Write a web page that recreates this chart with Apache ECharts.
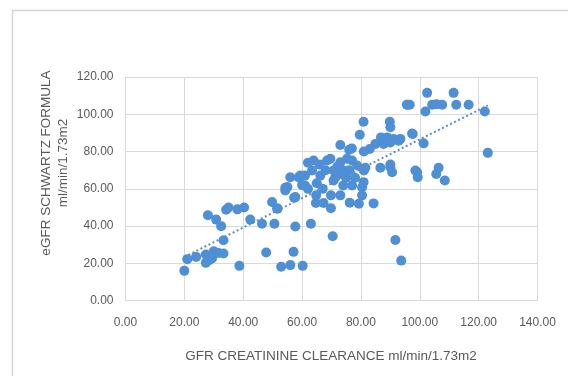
<!DOCTYPE html>
<html>
<head>
<meta charset="utf-8">
<script src="https://cdn.jsdelivr.net/npm/echarts@6/dist/echarts.min.js"></script>
<style>
  html, body { margin: 0; padding: 0; background: #ffffff; }
  #chart { width: 568px; height: 376px; }
</style>
</head>
<body>
<div id="chart"></div>
<script>
// GFR by creatinine clearance (x) vs eGFR by Schwartz formula (y), ml/min/1.73m2
const gfrClearance = [
  20, 21, 24, 27.3, 27.3, 28.4, 29.4, 30, 31.6, 33.3,
  28, 30.8, 32.5, 33.3, 34.2, 35, 38, 40.3, 42.4, 38.7,
  46.4, 47.8, 50.6, 49.8, 51.7, 52.9, 56, 57.1, 57.7, 57.3,
  54.3, 60.2, 63, 70.4, 91.7, 93.7,
  64.7, 67.3, 69.8, 64.8, 69.8, 73, 76.2, 79.3, 84.3, 80.4,
  80.4, 80.9, 81, 57.7, 54.3, 51.5,
  56, 58.8, 61, 59.4, 61, 63.4, 66.2, 70.7, 74, 71.3,
  70.7, 73, 77, 74, 63.9, 68.5, 69.6, 73, 75.3, 77,
  78.7, 81.5, 86.6, 90, 90.6, 99.1, 90, 62, 65, 67,
  68, 72, 75, 78, 55, 60, 66, 62, 76,
  73, 76.9, 83, 84.9, 86.8, 88.9, 91.1, 92.8, 90, 87.7,
  80.9, 79.6, 89.8, 90, 97.6, 95.9, 81, 76,
  102.5, 111.5, 95.6, 96.6, 104.2, 105.7, 107.6, 112.4, 116.6, 101.9,
  122.1, 97.4, 93.4, 101.3, 123.1, 98.5, 99.3, 105.6, 106.4, 108.5
];
const egfrSchwartz = [
  16, 22.3, 23.5, 20.3, 24.8, 21.7, 22.6, 26.5, 25.6, 25.3,
  45.8, 43.5, 40, 32.4, 48.8, 50, 49, 50, 43.5, 18.7,
  41.3, 25.9, 41.3, 52.9, 49.4, 18.2, 19.1, 26.2, 39.8, 55.2,
  59.1, 18.7, 41.3, 34.6, 32.6, 21.5,
  52.4, 52.4, 49.6, 56.5, 56.5, 56.5, 52.6, 52, 52.2, 56.5,
  60.9, 63.6, 69.8, 55.6, 60.6, 49.4,
  66.2, 66.2, 67.1, 67.1, 61.8, 69.8, 67.1, 69.8, 69.8, 66.2,
  64.5, 68, 61.8, 61.8, 75.2, 75.2, 76.1, 74.3, 76.1, 75.2,
  72.5, 71.3, 71.3, 71.6, 68.9, 68.9, 73, 60, 63, 60,
  70, 72, 66, 66, 61, 62, 73, 74, 70,
  83.5, 81.7, 81.4, 84.1, 87.6, 87.6, 86.8, 85.8, 84.9, 84.1,
  96, 89, 96, 93, 89.4, 105.1, 80, 81,
  111.5, 111.5, 105.1, 105.1, 105.1, 105.4, 105.1, 105.1, 105.1, 101.5,
  101.5, 89.7, 86.8, 84.4, 79.3, 69.8, 66.2, 68, 71.3, 64.5
];
const xTicks = { min: 0, max: 140, step: 20 };
const yTicks = { min: 0, max: 120, step: 20 };

const points = gfrClearance.map((x, i) => [x, egfrSchwartz[i]]);

// Least-squares linear trend over the observed range
const n = points.length;
const mx = gfrClearance.reduce((a, b) => a + b, 0) / n;
const my = egfrSchwartz.reduce((a, b) => a + b, 0) / n;
let sxy = 0, sxx = 0;
for (let i = 0; i < n; i++) {
  sxy += (gfrClearance[i] - mx) * (egfrSchwartz[i] - my);
  sxx += (gfrClearance[i] - mx) ** 2;
}
const slope = sxy / sxx;
const intercept = my - slope * mx;
const xLo = Math.min(...gfrClearance), xHi = Math.max(...gfrClearance);
const trend = [[xLo, intercept + slope * xLo], [xHi, intercept + slope * xHi]];

const blue = '#4f8fd5';
const textGrey = '#595959';
const gridGrey = '#d9d9d9';
const font = '"Liberation Sans", Arial, sans-serif';

const chart = echarts.init(document.getElementById('chart'), null, { renderer: 'canvas' });
chart.setOption({
  backgroundColor: '#ffffff',
  animation: false,
  grid: { left: 125.5, right: 30.5, top: 77, bottom: 75.3, containLabel: false },
  xAxis: {
    type: 'value', min: xTicks.min, max: xTicks.max, interval: xTicks.step,
    axisLine: { show: true, lineStyle: { color: gridGrey, width: 1 } },
    axisTick: { show: false },
    splitLine: { show: true, lineStyle: { color: gridGrey, width: 1 } },
    axisLabel: { color: textGrey, fontFamily: font, fontSize: 12, margin: 16,
                 formatter: v => v.toFixed(2) }
  },
  yAxis: {
    type: 'value', min: yTicks.min, max: yTicks.max, interval: yTicks.step,
    axisLine: { show: true, lineStyle: { color: gridGrey, width: 1 } },
    axisTick: { show: false },
    splitLine: { show: true, lineStyle: { color: gridGrey, width: 1 } },
    axisLabel: { color: textGrey, fontFamily: font, fontSize: 12, margin: 12,
                 formatter: v => v.toFixed(2) }
  },
  graphic: [
    { type: 'rect', left: 10, top: 8, silent: true, z: -10,
      shape: { width: 600, height: 400 },
      style: { fill: 'none', stroke: '#d6d6d6', lineWidth: 1.5 } },
    { type: 'text', x: 331, y: 356, silent: true,
      style: { text: 'GFR CREATININE CLEARANCE ml/min/1.73m2', fill: textGrey,
               font: '13.5px ' + font, align: 'center', verticalAlign: 'middle' } },
    { type: 'text', x: 46, y: 163, rotation: Math.PI / 2, silent: true,
      style: { text: 'eGFR SCHWARTZ FORMULA', fill: textGrey,
               font: '13.5px ' + font, align: 'center', verticalAlign: 'middle' } },
    { type: 'text', x: 63, y: 163, rotation: Math.PI / 2, silent: true,
      style: { text: 'ml/min/1.73m2', fill: textGrey,
               font: '13.5px ' + font, align: 'center', verticalAlign: 'middle' } }
  ],
  series: [
    { type: 'scatter', data: points, symbolSize: 10,
      itemStyle: { color: blue, opacity: 1 }, z: 3 },
    { type: 'line', data: trend, symbol: 'none', z: 4,
      lineStyle: { color: '#5a8fc8', width: 2, type: [2, 2.5] } }
  ]
});
</script>
</body>
</html>
